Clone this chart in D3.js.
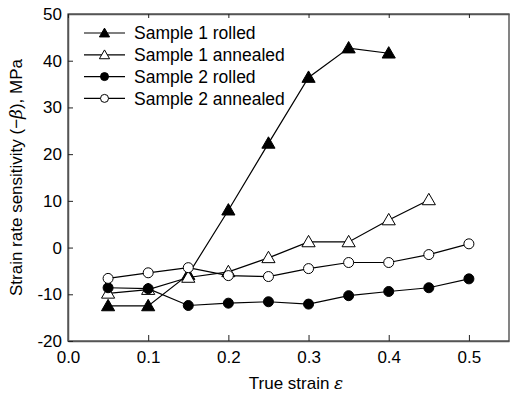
<!DOCTYPE html>
<html>
<head>
<meta charset="utf-8">
<script src="https://cdn.jsdelivr.net/npm/d3@7"></script>
<style>
  body { margin: 0; background: #fff; }
  text { font-family: "Liberation Sans", Arial, sans-serif; fill: #000; }
</style>
</head>
<body>
<div id="chart"></div>
<script>
var svgWidth = 511;
var svgHeight = 396;

var margin = { top: 14, right: 2, bottom: 55, left: 68 };
var width = svgWidth - margin.left - margin.right;
var height = svgHeight - margin.top - margin.bottom;

// data
var strain = [0.05, 0.1, 0.15, 0.2, 0.25, 0.3, 0.35, 0.4, 0.45, 0.5];
var s1Rolled = [-12.5, -12.5, -5.8, 8.0, 22.3, 36.4, 42.7, 41.6];
var s1Annealed = [-9.8, -9.0, -6.4, -5.2, -2.2, 1.2, 1.2, 5.9, 10.2];
var s2Rolled = [-8.6, -8.8, -12.4, -11.9, -11.6, -12.1, -10.3, -9.4, -8.6, -6.7];
var s2Annealed = [-6.6, -5.4, -4.3, -6.0, -6.2, -4.5, -3.2, -3.2, -1.5, 0.8];
var seriesNames = ["Sample 1 rolled", "Sample 1 annealed", "Sample 2 rolled", "Sample 2 annealed"];
var xTicks = [0, 0.1, 0.2, 0.3, 0.4, 0.5];
var yTicks = [-20, -10, 0, 10, 20, 30, 40, 50];

var series = [
  { name: seriesNames[0], values: s1Rolled, shape: "triangle", fill: "#000" },
  { name: seriesNames[1], values: s1Annealed, shape: "triangle", fill: "#fff" },
  { name: seriesNames[2], values: s2Rolled, shape: "circle", fill: "#000" },
  { name: seriesNames[3], values: s2Annealed, shape: "circle", fill: "#fff" }
];

var svg = d3.select("#chart")
  .append("svg")
  .attr("width", svgWidth)
  .attr("height", svgHeight);

var chartGroup = svg.append("g")
  .attr("transform", `translate(${margin.left}, ${margin.top})`);

var xScale = d3.scaleLinear().domain([0, 0.55]).range([0, width]);
var yScale = d3.scaleLinear().domain([-20, 50]).range([height, 0]);

// frame
chartGroup.append("rect")
  .attr("width", width)
  .attr("height", height)
  .attr("fill", "none")
  .attr("stroke", "#333")
  .attr("stroke-width", 1.2);

// bottom axis, ticks pointing in
var bottomAxis = d3.axisBottom(xScale).tickValues(xTicks).tickSizeInner(-6).tickSizeOuter(0)
  .tickFormat(function (d) { return d.toFixed(1); }).tickPadding(10);
var gx = chartGroup.append("g")
  .attr("transform", `translate(0, ${height})`)
  .call(bottomAxis);

// plain hyphen for negatives, like the original
var leftAxis = d3.axisLeft(yScale).tickValues(yTicks).tickSizeInner(-5).tickSizeOuter(0)
  .tickFormat(function (d) { return String(d); }).tickPadding(6);
var gy = chartGroup.append("g").call(leftAxis);

// small ticks on the top edge
var topAxis = d3.axisTop(xScale).tickValues(xTicks).tickSizeInner(-4).tickSizeOuter(0).tickFormat("");
var gt = chartGroup.append("g").call(topAxis);

[gx, gy, gt].forEach(function (g) {
  g.select(".domain").attr("stroke", "#555").attr("stroke-width", 1.5);
  g.selectAll(".tick line").attr("stroke", "#222").attr("stroke-width", 1);
  g.selectAll("text").style("font-size", "17px").attr("fill", "#000");
});

var line = d3.line()
  .x(function (d, i) { return xScale(strain[i]); })
  .y(function (d) { return yScale(d); });

var triangle = d3.symbol().type(d3.symbolTriangle).size(75);

function drawMarker(sel, s) {
  if (s.shape === "triangle") {
    sel.append("path")
      .attr("d", triangle)
      .attr("transform", "translate(0,1)")
      .attr("fill", s.fill)
      .attr("stroke", "#000")
      .attr("stroke-width", 1);
  } else {
    sel.append("circle")
      .attr("r", 5)
      .attr("fill", s.fill)
      .attr("stroke", "#000")
      .attr("stroke-width", 1);
  }
}

series.forEach(function (s) {
  chartGroup.append("path")
    .datum(s.values)
    .attr("d", line)
    .attr("fill", "none")
    .attr("stroke", "#000")
    .attr("stroke-width", 1.2);

  chartGroup.selectAll(null)
    .data(s.values)
    .enter()
    .append("g")
    .attr("transform", function (d, i) { return `translate(${xScale(strain[i])}, ${yScale(d)})`; })
    .each(function () { drawMarker(d3.select(this), s); });
});

// legend
var legend = chartGroup.append("g").attr("transform", "translate(16, 19)");
series.forEach(function (s, i) {
  var row = legend.append("g").attr("transform", `translate(0, ${i * 21.8})`);
  row.append("line")
    .attr("x1", 0).attr("x2", 41)
    .attr("stroke", "#000").attr("stroke-width", 1.2);
  var m = row.append("g").attr("transform", "translate(20.5, 0)");
  if (s.shape === "triangle") {
    m.append("path").attr("d", d3.symbol().type(d3.symbolTriangle).size(45))
      .attr("transform", "translate(0,1)")
      .attr("fill", s.fill).attr("stroke", "#000");
  } else {
    m.append("circle").attr("r", 4).attr("fill", s.fill).attr("stroke", "#000");
  }
  row.append("text")
    .attr("x", 50)
    .attr("dy", "0.35em")
    .style("font-size", "17.5px")
    .text(s.name);
});

// axis titles
var yTitle = svg.append("text")
  .attr("transform", `translate(22, ${margin.top + height / 2}) rotate(-90)`)
  .attr("text-anchor", "middle")
  .style("font-size", "17px");
yTitle.append("tspan").text("Strain rate sensitivity (\u2212");
yTitle.append("tspan").style("font-family", "'DejaVu Serif', serif").style("font-style", "italic").text("\u03B2");
yTitle.append("tspan").text("), MPa");

var xTitle = svg.append("text")
  .attr("x", 296)
  .attr("y", 389)
  .attr("text-anchor", "middle")
  .style("font-size", "17px");
xTitle.append("tspan").text("True strain ");
xTitle.append("tspan").style("font-family", "'DejaVu Serif', serif").style("font-style", "italic").text("\u03B5");
</script>
</body>
</html>
